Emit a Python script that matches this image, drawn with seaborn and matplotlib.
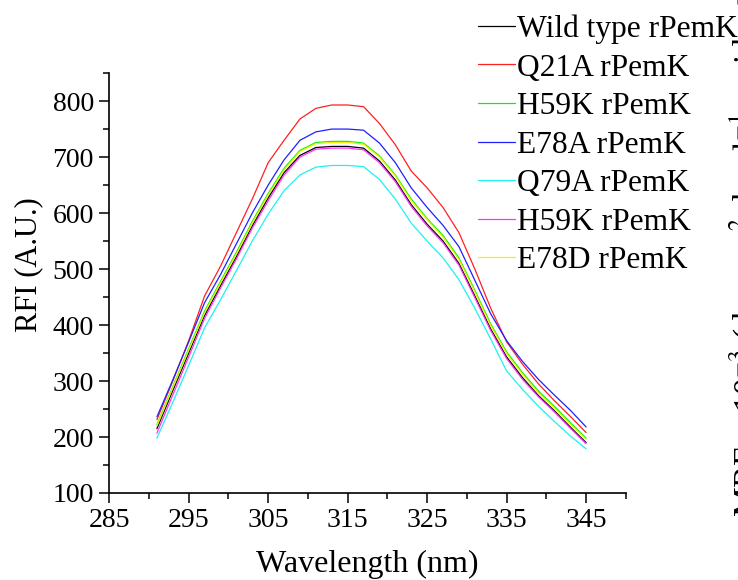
import numpy as np
import pandas as pd
import matplotlib
matplotlib.use("Agg")
import matplotlib.pyplot as plt
from matplotlib.ticker import MultipleLocator
import seaborn as sns

# wavelength grid (nm) and fluorescence intensities
wavelength = [291, 293, 295, 297, 299, 301, 303, 305, 307, 309, 311, 313, 315, 317,
              319, 321, 323, 325, 327, 329, 331, 333, 335, 337, 339, 341, 343, 345]

wild_type = [215, 283, 350, 417, 470, 522, 577, 627, 672, 703, 717, 719, 719, 716,
             693, 659, 615, 580, 550, 510, 452, 393, 343, 306, 274, 247, 218, 190]
q21a = [231, 300, 372, 452, 505, 565, 625, 690, 730, 768, 787, 793, 793, 790,
        760, 722, 675, 645, 610, 565, 500, 430, 370, 330, 295, 265, 237, 208]
h59k = [222, 290, 358, 425, 478, 530, 585, 635, 680, 712, 726, 728, 728, 725,
        702, 668, 625, 590, 560, 520, 462, 402, 352, 315, 282, 255, 226, 198]
e78a = [236, 302, 370, 440, 490, 545, 600, 650, 695, 730, 745, 750, 750, 748,
        725, 690, 645, 610, 578, 540, 480, 420, 372, 335, 303, 275, 248, 218]
q79a = [198, 262, 328, 395, 445, 497, 550, 598, 640, 668, 682, 685, 685, 683,
        660, 625, 582, 550, 520, 481, 430, 375, 318, 285, 255, 228, 202, 179]
h59k_2 = [207, 275, 343, 412, 466, 518, 573, 622, 668, 700, 714, 716, 716, 713,
          690, 656, 612, 577, 547, 507, 449, 390, 340, 303, 272, 245, 216, 188]
e78d = [220, 288, 355, 422, 475, 527, 582, 632, 677, 710, 724, 726, 726, 723,
        700, 666, 622, 588, 557, 517, 459, 399, 349, 312, 279, 252, 223, 196]

labels = ["Wild type rPemK", "Q21A rPemK", "H59K rPemK", "E78A rPemK",
          "Q79A rPemK", "H59K rPemK", "E78D rPemK"]
series = [wild_type, q21a, h59k, e78a, q79a, h59k_2, e78d]
colors = ["#000000", "#ff2020", "#10ee10", "#2020ff", "#20f0f0", "#ff30ff", "#f0f000"]

sns.set_theme(style="ticks")
plt.rcParams["font.family"] = ["Liberation Serif", "DejaVu Serif"]
plt.rcParams["mathtext.fontset"] = "stix"
plt.rcParams["text.color"] = "black"
plt.rcParams["axes.labelcolor"] = "black"

fig = plt.figure(figsize=(7.38, 5.80), dpi=100)
ax = fig.add_axes([0.148, 0.150, 0.700, 0.724])

for lab, vals, col in zip(labels, series, colors):
    df = pd.DataFrame({"wl": wavelength, "rfi": vals})
    sns.lineplot(data=df, x="wl", y="rfi", color=col, linewidth=0.9,
                 label=lab, ax=ax)

ax.set_xlim(285, 350)
ax.set_ylim(100, 850)
ax.xaxis.set_minor_locator(MultipleLocator(5))
ax.yaxis.set_minor_locator(MultipleLocator(50))
ax.set_xticks(np.arange(285, 350, 10))
ax.set_yticks(np.arange(100, 850, 100))
ax.tick_params(which="major", length=7, width=1.1, labelsize=20, colors="black", pad=4)
ax.tick_params(which="minor", length=4, width=1.1, colors="black")
for side in ["top", "right"]:
    ax.spines[side].set_visible(False)
for side in ["left", "bottom"]:
    ax.spines[side].set_linewidth(1.2)
    ax.spines[side].set_color("black")

ax.set_xlabel("Wavelength (nm)", fontsize=23, labelpad=12)
ax.set_ylabel("RFI (A.U.)", fontsize=22)
ax.yaxis.set_label_coords(-0.128, 0.543)

handles, labs = ax.get_legend_handles_labels()
ax.legend(handles, labs, loc="upper left", bbox_to_anchor=(0.648, 0.975),
          bbox_transform=fig.transFigure, frameon=False, fontsize=22.7,
          handlelength=1.18, handletextpad=0.05, labelspacing=0.3,
          borderpad=0.0, borderaxespad=0.0)

# clipped y-label of the neighbouring panel at the right edge
fig.text(0.986, 0.108, r"MRE x 10$^{-3}$ (deg cm$^{2}$ dmol$^{-1}$ residue$^{-1}$)",
         rotation=90, ha="left", va="bottom", fontsize=24)

fig.savefig("out.png", dpi=100)
